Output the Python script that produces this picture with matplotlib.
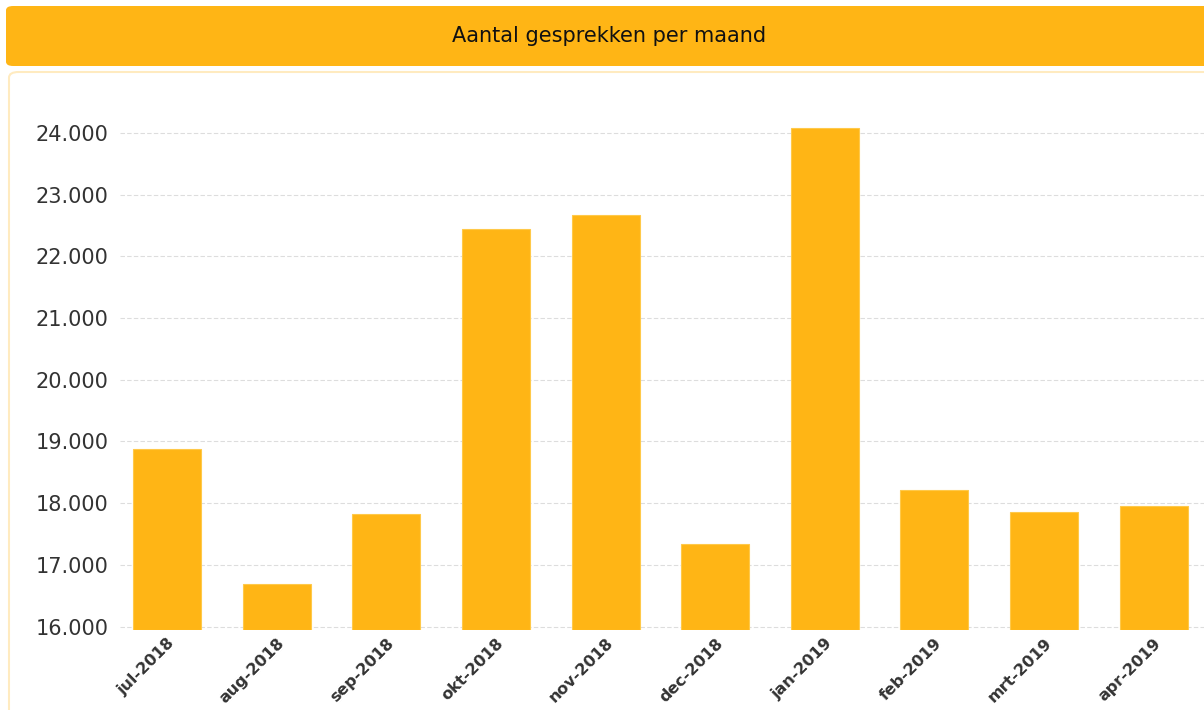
import matplotlib.pyplot as plt
from matplotlib.patches import FancyBboxPatch
from matplotlib.ticker import FuncFormatter

maanden = ['jul-2018', 'aug-2018', 'sep-2018', 'okt-2018', 'nov-2018',
           'dec-2018', 'jan-2019', 'feb-2019', 'mrt-2019', 'apr-2019']
gesprekken = [18875, 16690, 17820, 22435, 22675, 17340, 24085, 18210, 17860, 17960]
y_ticks = [16000, 17000, 18000, 19000, 20000, 21000, 22000, 23000, 24000]

ORANJE = '#FFB515'
W, H = 1204, 710

fig = plt.figure(figsize=(W / 100, H / 100), dpi=100)
fig.patch.set_facecolor('white')

# header bar with the title
header = FancyBboxPatch((6 / W, 1 - 66 / H), 1.2, 60 / H,
                        boxstyle='round,pad=0,rounding_size=0.006',
                        transform=fig.transFigure, facecolor=ORANJE,
                        edgecolor='none', zorder=-2)
fig.patches.append(header)
fig.text(609 / W, 1 - 36 / H, 'Aantal gesprekken per maand', ha='center',
         va='center', fontsize=15, color='#111111', family='DejaVu Sans')

# light panel border around the chart
panel = FancyBboxPatch((9 / W, -0.1), 1.2, (H - 72) / H + 0.1,
                       boxstyle='round,pad=0,rounding_size=0.008',
                       transform=fig.transFigure, facecolor='white',
                       edgecolor='#FFEBC0', linewidth=1.5, zorder=-2)
fig.patches.append(panel)

ax = fig.add_axes([120 / W, 1 - 629.8 / H, (W - 120) / W, 531 / H])
ax.set_facecolor('none')
ax.set_zorder(1)

ymin = 15950
x = range(len(maanden))
ax.bar(x, [v - ymin for v in gesprekken], bottom=ymin, width=0.62,
       color=ORANJE, edgecolor='#FFC94A', linewidth=0.8, zorder=2)

ax.set_xlim(-0.43, 9.46)
ax.set_ylim(ymin, 24550)
ax.set_yticks(y_ticks)
ax.yaxis.set_major_formatter(FuncFormatter(lambda v, p: f'{int(v):,}'.replace(',', '.')))
ax.grid(axis='y', color='#DDDDDD', linestyle=(0, (4, 2)), linewidth=0.8, zorder=0)

ax.set_xticks(list(x))
ax.set_xticklabels(maanden, rotation=45, ha='right', rotation_mode='anchor',
                   fontsize=11.5, fontweight='bold', color='#333333')
ax.tick_params(axis='x', length=0, pad=4)
ax.tick_params(axis='y', length=0, pad=8.5, labelsize=15, labelcolor='#333333')

for s in ax.spines.values():
    s.set_visible(False)

fig.savefig('out.png', dpi=100)
